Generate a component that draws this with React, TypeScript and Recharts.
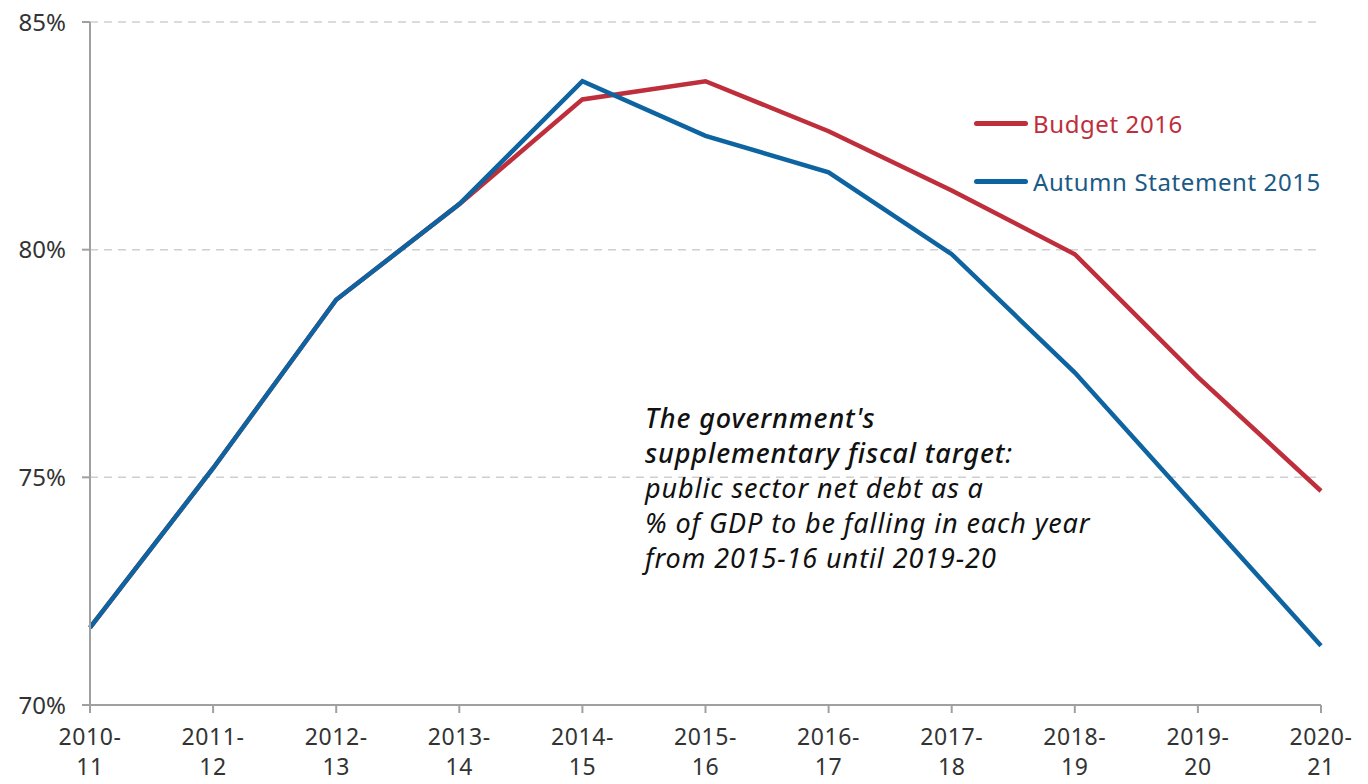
import { LineChart, Line, XAxis, YAxis, CartesianGrid } from 'recharts';

const years = ['2010-11', '2011-12', '2012-13', '2013-14', '2014-15', '2015-16', '2016-17', '2017-18', '2018-19', '2019-20', '2020-21'];
const budget2016 = [71.7, 75.2, 78.9, 81.0, 83.3, 83.7, 82.6, 81.3, 79.9, 77.2, 74.7];
const autumn2015 = [71.7, 75.2, 78.9, 81.0, 83.7, 82.5, 81.7, 79.9, 77.3, 74.3, 71.3];
const yTicks = [70, 75, 80, 85];

const RED = '#BE2E3B';
const BLUE = '#0E64A0';
const FONT = '"Noto Sans", sans-serif';

const data = years.map((y, i) => ({ year: y, budget: budget2016[i], autumn: autumn2015[i] }));

// two-line year label: "2010-" over "11"
const YearTick = (props: any) => {
    const { x, y, payload } = props;
    const [a, b] = String(payload.value).split('-');
    return (
        <text x={x} y={y} textAnchor="middle" fill="#333" fontSize={23} fontFamily={FONT} letterSpacing={0.6}>
            <tspan x={x} dy={30}>{a}-</tspan>
            <tspan x={x} dy={30}>{b}</tspan>
        </text>
    );
};

export default function App() {
    return (
        <div style={{ position: 'absolute', left: 0, top: 0, width: 1368, height: 784, background: '#fff' }}>
            <LineChart width={1368} height={784} data={data} margin={{ top: 22, right: 47, bottom: 0, left: 0 }}>
                <CartesianGrid vertical={false} stroke="#cfcfcf" strokeDasharray="8 6" strokeWidth={1.5} />
                <XAxis
                    dataKey="year"
                    height={79}
                    interval={0}
                    tick={<YearTick />}
                    stroke="#a0a0a0"
                    strokeWidth={2}
                    tickSize={8}
                />
                <YAxis
                    width={90}
                    domain={[70, 85]}
                    ticks={yTicks}
                    tickFormatter={(v: number) => `${v}%`}
                    stroke="#a0a0a0"
                    strokeWidth={2}
                    tickSize={8}
                    tickMargin={16}
                    tick={{ fill: '#333', fontSize: 24, fontFamily: FONT }}
                />
                <Line type="linear" dataKey="budget" name="Budget 2016" stroke={RED} strokeWidth={4.5} dot={false} isAnimationActive={false} />
                <Line type="linear" dataKey="autumn" name="Autumn Statement 2015" stroke={BLUE} strokeWidth={4.5} dot={false} isAnimationActive={false} />
            </LineChart>
            <div style={{ position: 'absolute', left: 974, top: 107, fontFamily: FONT, fontSize: 24, letterSpacing: 0.6 }}>
                <div style={{ display: 'flex', alignItems: 'center', color: RED, height: 32 }}>
                    <span style={{ display: 'inline-block', width: 54, height: 5, borderRadius: 3, background: RED, marginRight: 5 }} />
                    Budget 2016
                </div>
                <div style={{ display: 'flex', alignItems: 'center', color: '#1B5A86', height: 32, marginTop: 26 }}>
                    <span style={{ display: 'inline-block', width: 54, height: 5, borderRadius: 3, background: BLUE, marginRight: 5 }} />
                    Autumn Statement 2015
                </div>
            </div>
            <div
                style={{
                    position: 'absolute',
                    left: 645,
                    top: 400,
                    fontFamily: FONT,
                    fontStyle: 'italic',
                    fontSize: 27,
                    lineHeight: '35px',
                    letterSpacing: 0.9,
                    color: '#111',
                    whiteSpace: 'nowrap',
                }}
            >
                <div style={{ fontWeight: 500 }}>The government's</div>
                <div>
                    <span style={{ fontWeight: 500 }}>supplementary fiscal target</span>:
                </div>
                <div>public sector net debt as a</div>
                <div>% of GDP to be falling in each year</div>
                <div>from 2015-16 until 2019-20</div>
            </div>
        </div>
    );
}
